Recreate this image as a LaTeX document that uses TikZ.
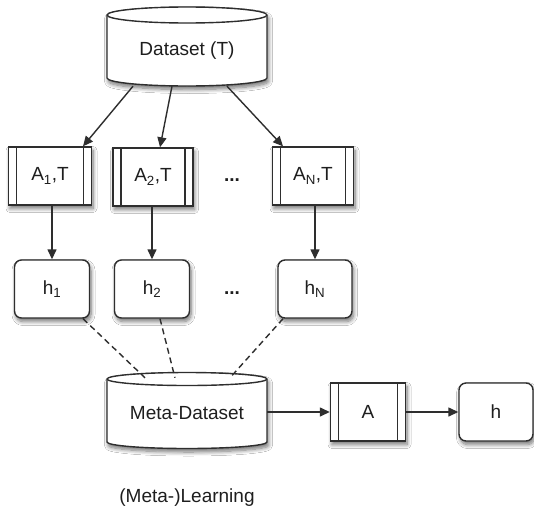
\documentclass[tikz,border=0pt]{standalone}
\usepackage{fontspec}
\setmainfont{Liberation Sans}
\usetikzlibrary{arrows.meta,shadows.blur}
\definecolor{ln}{HTML}{2E2E2E}
\definecolor{tx}{HTML}{1E1E1E}
\tikzset{
  shd/.style={blur shadow={shadow blur steps=8, shadow xshift=1.5pt, shadow yshift=-3.5pt, shadow opacity=55, shadow blur radius=4pt}},
  lbl/.style={font=\fontsize{19}{23}\selectfont, text=tx},
  proc/.style={lbl, draw=ln, line width=1.4pt, fill=white, shd, minimum height=58pt, inner sep=0pt,
    path picture={
      \draw[ln, line width=1.1pt] ([xshift=8pt]path picture bounding box.north west) -- ([xshift=8pt]path picture bounding box.south west);
      \draw[ln, line width=1.1pt] ([xshift=-8pt]path picture bounding box.north east) -- ([xshift=-8pt]path picture bounding box.south east);
    }},
  hyp/.style={lbl, draw=ln, line width=1.4pt, fill=white, shd, rounded corners=7pt, minimum height=58pt, minimum width=75pt, inner sep=0pt},
  cyl/.style={draw=ln, line width=1.4pt, fill=white, shd},
  cyltop/.style={draw=ln, line width=1.4pt},
  arr/.style={draw=ln, line width=1.4pt, -{Triangle[length=10pt,width=9pt]}},
  dsh/.style={draw=ln, line width=1.4pt, dash pattern=on 6pt off 4pt},
  dots/.style={font=\fontsize{19}{23}\selectfont\bfseries, text=tx},
  area/.style={lbl, minimum width=160pt, minimum height=70pt, inner sep=0pt},
}
\begin{document}
\begin{tikzpicture}[x=1pt,y=-1pt]
\useasboundingbox[fill=white] (0,0) rectangle (534,514);

% Dataset cylinder
\path[cyl] (107,15) -- (107,78) arc[start angle=180, end angle=0, x radius=80, y radius=8]
  -- (267,15) arc[start angle=0, end angle=-180, x radius=80, y radius=8] -- cycle;
\draw[cyltop] (107,15) arc[start angle=180, end angle=0, x radius=80, y radius=8];
\node[area] (ds) at (187,51) {Dataset (T)};

% Meta-Dataset cylinder
\path[cyl] (107,379) -- (107,442) arc[start angle=180, end angle=0, x radius=80, y radius=6.5]
  -- (267,379) arc[start angle=0, end angle=-180, x radius=80, y radius=6.5] -- cycle;
\draw[cyltop] (107,379) arc[start angle=180, end angle=0, x radius=80, y radius=6.5];
\node[area] (md) at (187,413) {Meta-Dataset};

% algorithm boxes
\node[proc, minimum width=83pt] (a1) at (50,176) {A\textsubscript{1},T};
\node[proc, minimum width=80pt] (a2) at (153,177) {A\textsubscript{2},T};
\node[proc, minimum width=81pt] (aN) at (313,176) {A\textsubscript{N},T};
\node[dots] (d1) at (232,180) {...};

% hypotheses
\node[hyp] (h1) at (52,289) {h\textsubscript{1}};
\node[hyp] (h2) at (152,289) {h\textsubscript{2}};
\node[hyp, minimum width=74pt] (hN) at (315,289) {h\textsubscript{N}};
\node[dots] (d2) at (232,293) {...};

% meta level
\node[proc, minimum width=75pt] (ma) at (368,412) {A};
\node[hyp, minimum width=74pt] (mh) at (496,412) {h};

\node[lbl] (ml) at (187,498) {(Meta-)Learning};

% connectors
\draw[arr] ([xshift=-54pt]ds.south) -- ([xshift=33pt]a1.north);
\draw[arr] ([xshift=-15pt]ds.south) -- ([xshift=7pt]a2.north);
\draw[arr] ([xshift=40pt]ds.south) -- ([xshift=-30pt]aN.north);

\draw[arr] (h1.north |- a1.south) -- (h1.north);
\draw[arr] (h2.north |- a2.south) -- (h2.north);
\draw[arr] (hN.north |- aN.south) -- (hN.north);

\draw[dsh] ([xshift=31pt]h1.south) -- ([xshift=-42pt]md.north);
\draw[dsh] ([xshift=8pt]h2.south) -- ([xshift=-12pt]md.north);
\draw[dsh] ([xshift=-32pt]hN.south) -- ([xshift=43pt]md.north);

\draw[arr] (md.east |- ma.west) -- (ma.west);
\draw[arr] (ma.east) -- (mh.west);
\end{tikzpicture}
\end{document}
